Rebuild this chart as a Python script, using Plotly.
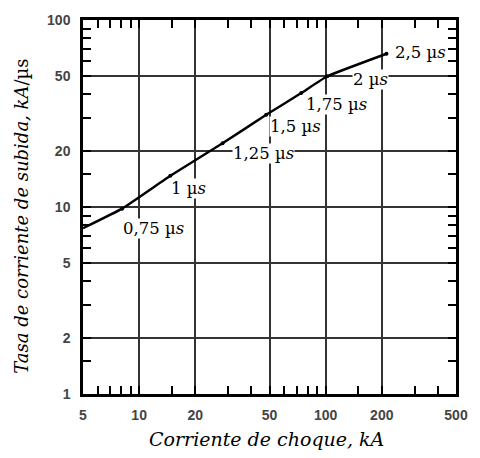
import math
import plotly.graph_objects as go

# Data
current_kA = [5, 8.1, 14.7, 28, 48, 74, 102, 212]
rate_kA_us = [7.7, 9.8, 14.7, 21.9, 31.1, 40.7, 50, 66]
point_labels = ["", "0,75 µ<i>s</i>", "1 µ<i>s</i>", "1,25 µ<i>s</i>", "1,5 µ<i>s</i>",
                "1,75 µ<i>s</i>", "2 µ<i>s</i>", "2,5 µ<i>s</i>"]
label_dx = [0, 0, 0, 9, 3, 4, 25, 7]
label_dy = [0, 20, 13, 10, 12, 11, 3, -1]

x_major = [5, 10, 20, 50, 100, 200, 500]
x_minor = [6, 7, 8, 9, 15, 30, 40, 60, 70, 80, 90, 150, 300, 400]
y_major = [1, 2, 5, 10, 20, 50, 100]
y_minor = [1.5, 3, 4, 6, 7, 8, 9, 15, 30, 40, 60, 70, 80, 90]

fig = go.Figure()
fig.add_trace(go.Scatter(
    x=current_kA[1:], y=rate_kA_us[1:], mode="markers",
    marker=dict(color="black", size=4), showlegend=False, hoverinfo="skip"))
fig.add_trace(go.Scatter(
    x=current_kA, y=rate_kA_us, mode="lines",
    line=dict(color="black", width=2.4, shape="spline", smoothing=0.3),
    showlegend=False))

for xv, yv, t, dx, dy in zip(current_kA, rate_kA_us, point_labels, label_dx, label_dy):
    if not t:
        continue
    fig.add_annotation(
        x=math.log10(xv), y=math.log10(yv), xref="x", yref="y", text=t,
        showarrow=False, xanchor="left", yanchor="middle",
        xshift=dx, yshift=-dy, bgcolor="white", borderpad=0,
        font=dict(family="DejaVu Serif", size=16.5, color="black"))

tickfont = dict(family="Liberation Sans", size=14, color="#444444", weight="bold")
axis_common = dict(
    type="log", showline=True, linecolor="black", linewidth=2.5, mirror="ticks",
    showgrid=True, gridcolor="#333333", gridwidth=1.6, zeroline=False,
    tickmode="array", ticks="inside", ticklen=8, tickwidth=2, tickcolor="black",
    tickfont=tickfont,
)
fig.update_xaxes(
    **axis_common, range=[math.log10(5), math.log10(500)],
    tickvals=x_major, ticktext=[str(v) for v in x_major], ticklabelstandoff=6,
    minor=dict(tickmode="array", tickvals=x_minor, ticks="inside", ticklen=8,
               tickwidth=2, tickcolor="black", showgrid=False))
fig.update_yaxes(
    **axis_common, range=[0, 2],
    tickvals=y_major, ticktext=[str(v) for v in y_major], ticklabelstandoff=7,
    minor=dict(tickmode="array", tickvals=y_minor, ticks="inside", ticklen=8,
               tickwidth=2, tickcolor="black", showgrid=False))

fig.add_annotation(
    text="<i>Corriente de choque, kA</i>", xref="paper", yref="paper",
    x=0.491, y=-0.121, xanchor="center", yanchor="middle", showarrow=False,
    font=dict(family="DejaVu Serif", size=19, color="black"))
fig.add_annotation(
    text="<i>Tasa de corriente de subida, kA</i>/µs", xref="paper", yref="paper",
    x=-0.165, y=0.475, xanchor="center", yanchor="middle", showarrow=False,
    textangle=-90, font=dict(family="DejaVu Serif", size=18, color="black"))

fig.update_layout(
    width=480, height=458,
    margin=dict(l=83, r=16, t=15, b=64),
    paper_bgcolor="white", plot_bgcolor="white",
)
fig.write_html("out.html")
